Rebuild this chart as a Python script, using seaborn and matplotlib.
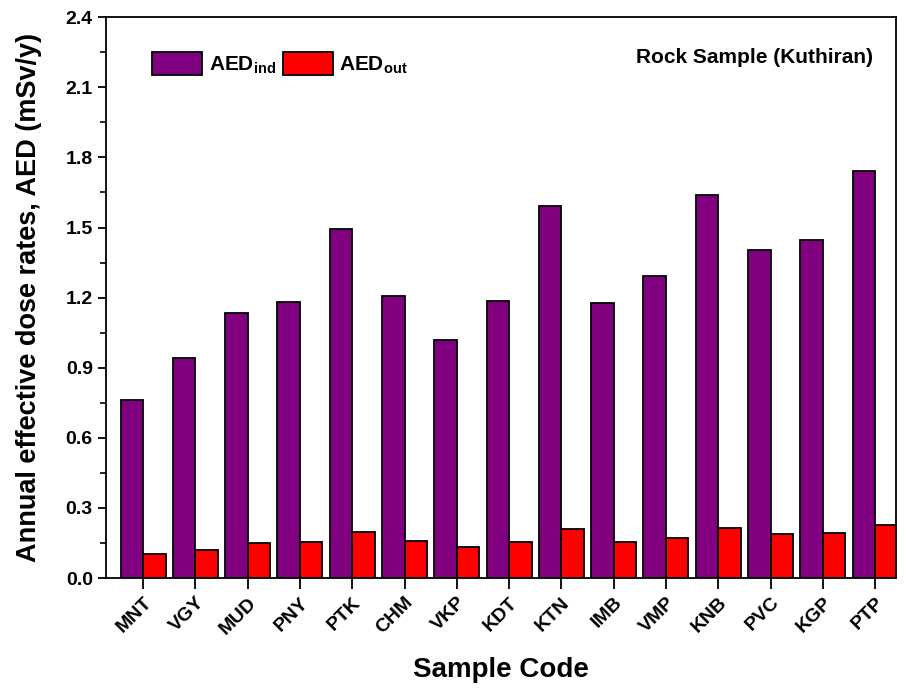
import matplotlib
matplotlib.use("Agg")
import matplotlib.pyplot as plt
from matplotlib.ticker import MultipleLocator, FormatStrFormatter
import pandas as pd
import seaborn as sns

# Sample codes and annual effective dose rates (mSv/y)
codes = ["MNT", "VGY", "MUD", "PNY", "PTK", "CHM", "VKP", "KDT",
         "KTN", "IMB", "VMP", "KNB", "PVC", "KGP", "PTP"]
aed_ind = [0.763, 0.941, 1.135, 1.181, 1.493, 1.209, 1.020, 1.184,
           1.594, 1.176, 1.292, 1.640, 1.402, 1.447, 1.740]
aed_out = [0.101, 0.122, 0.151, 0.155, 0.197, 0.160, 0.134, 0.155,
           0.210, 0.154, 0.171, 0.216, 0.187, 0.191, 0.229]
series_labels = [r"AED$_{\mathbf{ind}}$", r"AED$_{\mathbf{out}}$"]
series_colors = ["#800080", "#FF0000"]

df = pd.DataFrame({
    "code": codes * 2,
    "value": aed_ind + aed_out,
    "series": [series_labels[0]] * len(codes) + [series_labels[1]] * len(codes),
})

sns.set_style("ticks")
plt.rcParams["font.family"] = ["Liberation Sans", "DejaVu Sans"]
plt.rcParams["font.weight"] = "bold"
plt.rcParams["mathtext.fontset"] = "custom"
plt.rcParams["mathtext.bf"] = "Liberation Sans:bold"
plt.rcParams["mathtext.rm"] = "Liberation Sans:bold"
plt.rcParams["mathtext.default"] = "bf"
for key in ["text.color", "axes.labelcolor", "xtick.color", "ytick.color",
            "axes.edgecolor"]:
    plt.rcParams[key] = "black"

fig = plt.figure(figsize=(9.06, 6.89), dpi=100)
ax = fig.add_axes([0.117, 0.161, 0.872, 0.814])

sns.barplot(data=df, x="code", y="value", hue="series", palette=series_colors,
            width=0.86, edgecolor="black", linewidth=1.3, ax=ax,
            errorbar=None, saturation=1)

ax.set_xlim(-0.71, 14.40)
ax.set_ylim(0, 2.4)
ax.yaxis.set_major_locator(MultipleLocator(0.3))
ax.yaxis.set_minor_locator(MultipleLocator(0.15))
ax.yaxis.set_major_formatter(FormatStrFormatter("%.1f"))

for side in ["top", "right", "left", "bottom"]:
    ax.spines[side].set_visible(True)
    ax.spines[side].set_linewidth(1.3)
    ax.spines[side].set_color("black")

ax.tick_params(axis="both", which="major", direction="out", length=6,
               width=1.3, labelsize=14, color="black", labelcolor="black")
ax.tick_params(axis="y", which="minor", direction="out", length=4, width=1.2)
ax.tick_params(axis="x", length=8)
for lab in ax.get_yticklabels():
    lab.set_fontweight("bold")
plt.setp(ax.get_xticklabels(), rotation=45, ha="right",
         rotation_mode="anchor", fontweight="bold", fontsize=14)

ax.set_xlabel("Sample Code", fontsize=20, fontweight="bold", labelpad=14)
ax.set_ylabel("Annual effective dose rates, AED (mSv/y)", fontsize=19.5,
              fontweight="bold", labelpad=17)

ax.text(0.971, 0.929, "Rock Sample (Kuthiran)", transform=ax.transAxes,
        ha="right", va="center", fontsize=15, fontweight="bold")

leg = ax.legend(loc="upper left", bbox_to_anchor=(0.048, 0.952), ncol=2,
                frameon=False, fontsize=15, handlelength=2.4,
                handleheight=1.3, handletextpad=0.3, columnspacing=0.35,
                borderaxespad=0)
for t in leg.get_texts():
    t.set_fontweight("bold")
    t.set_color("black")

fig.savefig("out.png", dpi=100)
